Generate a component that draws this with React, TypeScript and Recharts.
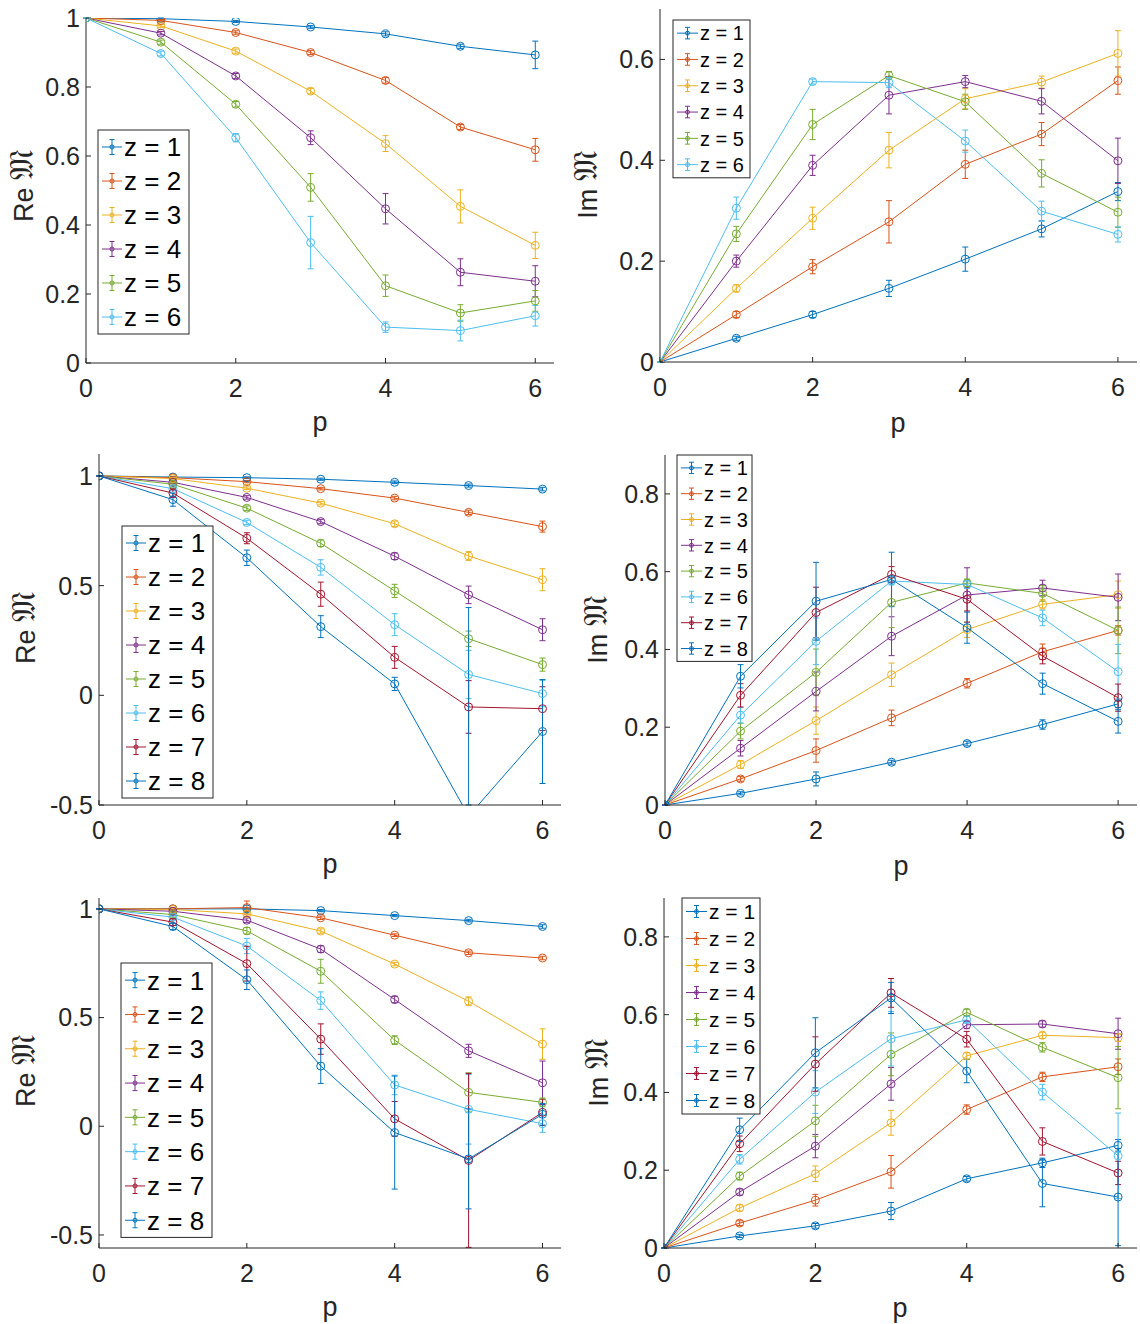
import React from 'react';
import { LineChart, Line, XAxis, YAxis, ErrorBar } from 'recharts';

// momentum p and the z = 1..8 series colours (MATLAB default order)
const P_VALUES = [0, 1, 2, 3, 4, 5, 6];
const X_TICKS = [0, 2, 4, 6];
const COLORS = ['#0072BD', '#D95319', '#EDB120', '#7E2F8E', '#77AC30', '#4DBEEE', '#A2142F', '#0072BD'];

// top row, z = 1..6
const reTop = [
    [1, 0.998, 0.99, 0.974, 0.954, 0.918, 0.893],
    [1, 0.993, 0.958, 0.9, 0.819, 0.684, 0.618],
    [1, 0.977, 0.904, 0.788, 0.636, 0.454, 0.341],
    [1, 0.956, 0.832, 0.653, 0.447, 0.263, 0.237],
    [1, 0.93, 0.75, 0.509, 0.224, 0.145, 0.18],
    [1, 0.897, 0.653, 0.349, 0.104, 0.094, 0.137],
];
const reTopErr = [
    [0, 0.002, 0.003, 0.004, 0.006, 0.006, 0.04],
    [0, 0.003, 0.005, 0.006, 0.008, 0.007, 0.033],
    [0, 0.004, 0.006, 0.008, 0.023, 0.048, 0.038],
    [0, 0.005, 0.007, 0.02, 0.044, 0.039, 0.045],
    [0, 0.006, 0.008, 0.04, 0.031, 0.024, 0.03],
    [0, 0.007, 0.012, 0.076, 0.015, 0.03, 0.03],
];
const imTop = [
    [0, 0.047, 0.094, 0.146, 0.204, 0.264, 0.338],
    [0, 0.094, 0.189, 0.278, 0.392, 0.452, 0.558],
    [0, 0.146, 0.285, 0.42, 0.522, 0.555, 0.612],
    [0, 0.2, 0.39, 0.529, 0.556, 0.517, 0.399],
    [0, 0.254, 0.471, 0.568, 0.516, 0.374, 0.297],
    [0, 0.305, 0.556, 0.554, 0.438, 0.299, 0.253],
];
const imTopErr = [
    [0, 0.004, 0.006, 0.016, 0.024, 0.016, 0.018],
    [0, 0.006, 0.014, 0.042, 0.028, 0.023, 0.027],
    [0, 0.007, 0.022, 0.035, 0.02, 0.012, 0.045],
    [0, 0.012, 0.02, 0.037, 0.012, 0.025, 0.045],
    [0, 0.015, 0.03, 0.008, 0.015, 0.027, 0.03],
    [0, 0.022, 0.005, 0.01, 0.022, 0.02, 0.015],
];

// middle row, z = 1..8
const reMid = [
    [1, 0.995, 0.992, 0.985, 0.971, 0.956, 0.94],
    [1, 0.992, 0.974, 0.942, 0.899, 0.834, 0.769],
    [1, 0.988, 0.944, 0.876, 0.782, 0.635, 0.527],
    [1, 0.971, 0.902, 0.792, 0.634, 0.458, 0.299],
    [1, 0.962, 0.853, 0.693, 0.476, 0.258, 0.14],
    [1, 0.942, 0.788, 0.583, 0.322, 0.095, 0.008],
    [1, 0.922, 0.716, 0.461, 0.173, -0.053, -0.061],
    [1, 0.892, 0.627, 0.313, 0.052, -0.55, -0.165],
];
const reMidErr = [
    [0, 0.003, 0.004, 0.005, 0.006, 0.007, 0.008],
    [0, 0.004, 0.005, 0.006, 0.008, 0.01, 0.025],
    [0, 0.005, 0.006, 0.008, 0.012, 0.02, 0.05],
    [0, 0.006, 0.008, 0.01, 0.015, 0.04, 0.05],
    [0, 0.007, 0.01, 0.015, 0.03, 0.035, 0.03],
    [0, 0.008, 0.01, 0.035, 0.05, 0.11, 0.06],
    [0, 0.02, 0.025, 0.055, 0.05, 0.12, 0.1],
    [0, 0.03, 0.035, 0.05, 0.03, 0.95, 0.237],
];
const imMid = [
    [0, 0.03, 0.067, 0.11, 0.158, 0.207, 0.26],
    [0, 0.067, 0.14, 0.224, 0.313, 0.394, 0.449],
    [0, 0.104, 0.217, 0.335, 0.451, 0.516, 0.541],
    [0, 0.146, 0.292, 0.434, 0.54, 0.558, 0.534],
    [0, 0.19, 0.341, 0.521, 0.571, 0.544, 0.449],
    [0, 0.231, 0.421, 0.576, 0.567, 0.481, 0.343],
    [0, 0.282, 0.495, 0.593, 0.529, 0.383, 0.276],
    [0, 0.331, 0.524, 0.58, 0.456, 0.312, 0.215],
];
const imMidErr = [
    [0, 0.004, 0.018, 0.005, 0.006, 0.012, 0.01],
    [0, 0.006, 0.03, 0.02, 0.012, 0.02, 0.012],
    [0, 0.01, 0.035, 0.03, 0.02, 0.012, 0.035],
    [0, 0.02, 0.05, 0.05, 0.07, 0.02, 0.06],
    [0, 0.02, 0.06, 0.065, 0.01, 0.02, 0.06],
    [0, 0.02, 0.06, 0.01, 0.01, 0.02, 0.07],
    [0, 0.03, 0.065, 0.02, 0.03, 0.02, 0.035],
    [0, 0.03, 0.1, 0.07, 0.04, 0.027, 0.03],
];

// bottom row, z = 1..8
const reBot = [
    [1, 1, 1, 0.992, 0.969, 0.946, 0.919],
    [1, 1, 1.006, 0.959, 0.879, 0.798, 0.774],
    [1, 0.997, 0.977, 0.898, 0.746, 0.575, 0.378],
    [1, 0.989, 0.948, 0.815, 0.583, 0.347, 0.2],
    [1, 0.974, 0.899, 0.713, 0.396, 0.156, 0.11],
    [1, 0.962, 0.829, 0.578, 0.19, 0.078, 0.012],
    [1, 0.939, 0.748, 0.401, 0.034, -0.157, 0.064],
    [1, 0.919, 0.674, 0.277, -0.029, -0.15, 0.055],
];
const reBotErr = [
    [0, 0.003, 0.004, 0.005, 0.005, 0.006, 0.008],
    [0, 0.004, 0.03, 0.008, 0.006, 0.008, 0.008],
    [0, 0.005, 0.01, 0.01, 0.008, 0.02, 0.07],
    [0, 0.006, 0.01, 0.015, 0.015, 0.03, 0.1],
    [0, 0.007, 0.015, 0.055, 0.02, 0.09, 0.02],
    [0, 0.008, 0.035, 0.04, 0.045, 0.16, 0.04],
    [0, 0.015, 0.08, 0.07, 0.08, 0.4, 0.06],
    [0, 0.015, 0.045, 0.08, 0.26, 0.23, 0.05],
];
const imBot = [
    [0, 0.031, 0.057, 0.095, 0.178, 0.219, 0.264],
    [0, 0.064, 0.123, 0.196, 0.356, 0.44, 0.466],
    [0, 0.103, 0.191, 0.322, 0.494, 0.547, 0.541],
    [0, 0.144, 0.262, 0.422, 0.574, 0.576, 0.551],
    [0, 0.185, 0.327, 0.498, 0.606, 0.516, 0.438],
    [0, 0.228, 0.401, 0.538, 0.587, 0.401, 0.237],
    [0, 0.268, 0.473, 0.656, 0.537, 0.274, 0.193],
    [0, 0.304, 0.502, 0.643, 0.455, 0.166, 0.131],
];
const imBotErr = [
    [0, 0.004, 0.006, 0.022, 0.006, 0.012, 0.015],
    [0, 0.006, 0.015, 0.042, 0.012, 0.012, 0.02],
    [0, 0.008, 0.02, 0.032, 0.008, 0.008, 0.01],
    [0, 0.008, 0.03, 0.042, 0.01, 0.008, 0.04],
    [0, 0.01, 0.04, 0.055, 0.008, 0.012, 0.08],
    [0, 0.012, 0.055, 0.07, 0.008, 0.02, 0.11],
    [0, 0.02, 0.07, 0.037, 0.02, 0.035, 0.03],
    [0, 0.03, 0.09, 0.04, 0.03, 0.06, 0.125],
];

const FONT = '"Liberation Sans", Arial, Helvetica, sans-serif';
const AXIS = '#262626';
const YW = 70;
const MT = 16;
const MR = 3;
const XH = 45;

const fmt = (v: number) => String(Math.round(v * 10) / 10);

function Panel({ box, vals, errs, yDomain, yTicks }: any) {
    const rows = P_VALUES.map((p, i) => {
        const r: any = { p };
        vals.forEach((s: number[], k: number) => {
            r['v' + k] = s[i];
            r['e' + k] = errs[k][i];
        });
        return r;
    });
    // error bars are cut at the axes box, like the line itself
    const errKey = (k: number) => (row: any) => {
        const v = row['v' + k];
        const e = row['e' + k];
        return [Math.min(e, v - yDomain[0]), Math.min(e, yDomain[1] - v)];
    };
    const width = YW + box.r - box.l + MR;
    const height = MT + box.b - box.t + XH;
    const tickStyle = { fill: AXIS, fontSize: 25, fontFamily: FONT };
    return (
        <div style={{ position: 'absolute', left: box.l - YW, top: box.t - MT }}>
            <LineChart width={width} height={height} data={rows} margin={{ top: MT, right: MR, left: 0, bottom: 0 }}>
                <XAxis dataKey="p" type="number" domain={[0, 6.25]} ticks={X_TICKS} allowDataOverflow
                    height={XH} interval={0} tickSize={-5} tickMargin={21} stroke={AXIS} tick={tickStyle} />
                <XAxis xAxisId="top" orientation="top" dataKey="p" type="number" domain={[0, 6.25]} ticks={X_TICKS}
                    allowDataOverflow height={0} tickSize={-5} tick={false} stroke={AXIS} />
                <YAxis type="number" domain={yDomain} ticks={yTicks} allowDataOverflow width={YW} interval={0}
                    tickSize={-5} tickMargin={11} stroke={AXIS} tick={tickStyle} tickFormatter={fmt} />
                <YAxis yAxisId="right" orientation="right" type="number" domain={yDomain} ticks={yTicks}
                    allowDataOverflow width={0} tickSize={-5} tick={false} stroke={AXIS} />
                {vals.map((_: number[], k: number) => (
                    <Line key={k} type="linear" dataKey={'v' + k} stroke={COLORS[k]} strokeWidth={1}
                        dot={{ r: 4, fill: 'none', stroke: COLORS[k], strokeWidth: 1 }}
                        activeDot={false} isAnimationActive={false}>
                        <ErrorBar dataKey={errKey(k)} direction="y" width={3} stroke={COLORS[k]} strokeWidth={1} />
                    </Line>
                ))}
            </LineChart>
        </div>
    );
}

function LegendBox({ x, y, w, rowH, n, fs, lineLen }: any) {
    const rows = [];
    for (let i = 0; i < n; i++) {
        const cy = y + rowH * (i + 0.5);
        const x0 = x + 4;
        const xm = x0 + lineLen / 2;
        const eb = rowH * 0.22;
        rows.push(
            <g key={i}>
                <line x1={x0} x2={x0 + lineLen} y1={cy} y2={cy} stroke={COLORS[i]} strokeWidth={1} />
                <line x1={xm} x2={xm} y1={cy - eb} y2={cy + eb} stroke={COLORS[i]} strokeWidth={1} />
                <line x1={xm - 2.5} x2={xm + 2.5} y1={cy - eb} y2={cy - eb} stroke={COLORS[i]} strokeWidth={1} />
                <line x1={xm - 2.5} x2={xm + 2.5} y1={cy + eb} y2={cy + eb} stroke={COLORS[i]} strokeWidth={1} />
                <circle cx={xm} cy={cy} r={2} fill="none" stroke={COLORS[i]} strokeWidth={1} />
                <text x={x0 + lineLen + 2} y={cy + fs * 0.36} fontSize={fs} fontFamily={FONT} fill="#000">
                    {'z = ' + (i + 1)}
                </text>
            </g>
        );
    }
    return (
        <g>
            <rect x={x} y={y} width={w} height={rowH * n} fill="#fff" stroke={AXIS} strokeWidth={1} />
            {rows}
        </g>
    );
}

function YTitle({ x, y, part }: any) {
    return (
        <text x={x} y={y} transform={`rotate(-90, ${x}, ${y})`} textAnchor="middle" fontSize={27}
            fontFamily={FONT} fill={AXIS}>
            {part + ' '}<tspan fontSize={33}>{'\u{1D510}'}</tspan>
        </text>
    );
}

function XTitle({ x, y }: any) {
    return <text x={x} y={y} textAnchor="middle" fontSize={27} fontFamily={FONT} fill={AXIS}>p</text>;
}

export default function App() {
    return (
        <div style={{ position: 'absolute', left: 0, top: 0, width: 1140, height: 1324, background: '#fff', fontFamily: FONT }}>
            <Panel box={{ l: 86, r: 554, t: 18, b: 363 }} vals={reTop} errs={reTopErr} yDomain={[0, 1]} yTicks={[0, 0.2, 0.4, 0.6, 0.8, 1]} />
            <Panel box={{ l: 660, r: 1137, t: 9, b: 362 }} vals={imTop} errs={imTopErr} yDomain={[0, 0.7]} yTicks={[0, 0.2, 0.4, 0.6]} />
            <Panel box={{ l: 99, r: 561, t: 454, b: 805 }} vals={reMid} errs={reMidErr} yDomain={[-0.5, 1.1]} yTicks={[-0.5, 0, 0.5, 1]} />
            <Panel box={{ l: 665, r: 1137, t: 455, b: 805 }} vals={imMid} errs={imMidErr} yDomain={[0, 0.9]} yTicks={[0, 0.2, 0.4, 0.6, 0.8]} />
            <Panel box={{ l: 99, r: 561, t: 898, b: 1248 }} vals={reBot} errs={reBotErr} yDomain={[-0.56, 1.05]} yTicks={[-0.5, 0, 0.5, 1]} />
            <Panel box={{ l: 664, r: 1137, t: 898, b: 1248 }} vals={imBot} errs={imBotErr} yDomain={[0, 0.9]} yTicks={[0, 0.2, 0.4, 0.6, 0.8]} />
            <svg width={1140} height={1324} style={{ position: 'absolute', left: 0, top: 0, pointerEvents: 'none' }}>
                <LegendBox x={98} y={130} w={91} rowH={34} n={6} fs={26} lineLen={20} />
                <LegendBox x={673} y={20} w={77} rowH={26.3} n={6} fs={20} lineLen={21} />
                <LegendBox x={122} y={526} w={91} rowH={34} n={8} fs={26} lineLen={20} />
                <LegendBox x={677} y={455} w={75} rowH={25.8} n={8} fs={20} lineLen={21} />
                <LegendBox x={121} y={963} w={91} rowH={34.3} n={8} fs={26} lineLen={20} />
                <LegendBox x={682} y={898} w={78} rowH={27} n={8} fs={21} lineLen={21} />
                <YTitle x={33} y={186} part="Re" />
                <YTitle x={597} y={185} part="Im" />
                <YTitle x={35} y={628} part="Re" />
                <YTitle x={607} y={630} part="Im" />
                <YTitle x={35} y={1071} part="Re" />
                <YTitle x={608} y={1073} part="Im" />
                <XTitle x={320} y={431} />
                <XTitle x={898} y={432} />
                <XTitle x={330} y={873} />
                <XTitle x={901} y={875} />
                <XTitle x={330} y={1316} />
                <XTitle x={900} y={1317} />
            </svg>
        </div>
    );
}
